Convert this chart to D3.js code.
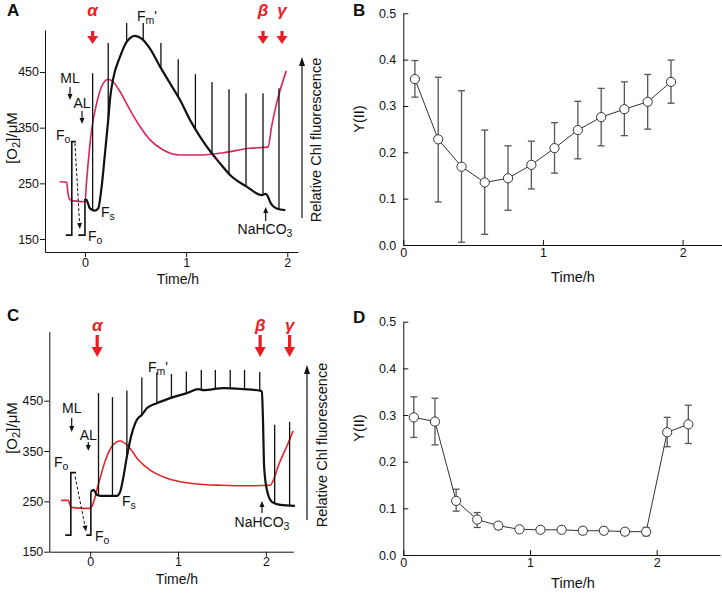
<!DOCTYPE html>
<html><head><meta charset="utf-8">
<script src="https://cdn.jsdelivr.net/npm/d3@7"></script>
<style>
body{margin:0;background:#fff;}
svg{display:block;}
</style></head><body>
<svg id="chart" width="722" height="593"></svg>
<script>
// ================= DATA =================
const timeTicks = [0, 1, 2];
const o2Ticks = [150, 250, 350, 450];
const yieldTicks = [0, 0.1, 0.2, 0.3, 0.4, 0.5];

// ---- Panel A: O2 concentration (red), µM vs time (h)
const o2A_t = [-0.25, -0.18, -0.17, -0.15, -0.13, 0, 0.017, 0.066, 0.116, 0.165, 0.23, 0.28, 0.346, 0.445, 0.544, 0.643, 0.774, 0.939, 1.137, 1.367, 1.631, 1.81, 1.845, 1.895, 1.99];
const o2A_v = [253, 252, 235, 221, 219, 217, 256, 346, 394, 424, 437, 432, 415, 382, 352, 328, 310, 301, 301, 305, 313, 315, 352, 394, 452];
// ---- Panel A: relative Chl fluorescence (black), plotted on the O2-equivalent scale
const flA_t = [0, 0.017, 0.049, 0.099, 0.131, 0.165, 0.198, 0.23, 0.25, 0.28, 0.346, 0.412, 0.494, 0.56, 0.643, 0.741, 0.84, 0.939, 1.038, 1.137, 1.253, 1.335, 1.434, 1.599, 1.747, 1.785, 1.81, 1.829, 1.895, 1.98];
const flA_v = [222, 220, 205, 201, 205, 244, 304, 364, 405, 439, 477, 504, 515, 510, 492, 460, 430, 400, 364, 334, 304, 286, 265, 244, 229, 231, 226, 217, 205, 202];
const foA1_t = [-0.19, -0.13, -0.13, -0.09];
const foA1_v = [157, 157, 325, 325];
const foA2_t = [-0.066, 0, 0];
const foA2_v = [157, 157, 222];
const pulseA_t = [0.076, 0.23, 0.412, 0.576, 0.751, 0.922, 1.092, 1.256, 1.424, 1.592, 1.76, 1.918];
const pulseA_top = [448, 502, 538, 538, 502, 473, 446, 432, 419, 412, 412, 421];
const markA_t = [0.076, 1.76, 1.948]; // alpha, beta, gamma

// ---- Panel C
const o2C_t = [-0.33, -0.25, -0.22, -0.16, 0, 0.02, 0.094, 0.171, 0.247, 0.341, 0.436, 0.55, 0.683, 0.873, 1.1, 1.25, 1.5, 1.8, 2.05, 2.08, 2.14, 2.24, 2.31];
const o2C_v = [252, 252, 239, 237, 236, 240, 284, 330, 359, 370, 359, 332, 312, 296, 287, 284, 282, 281, 282, 290, 320, 360, 390];
const flC_t = [0.008, 0.038, 0.076, 0.114, 0.19, 0.304, 0.341, 0.379, 0.418, 0.475, 0.532, 0.589, 0.645, 0.759, 0.911, 1.1, 1.233, 1.29, 1.517, 1.745, 1.935, 1.954, 1.966, 1.98, 2.011, 2.068, 2.163, 2.33];
const flC_v = [269, 273, 263, 261, 261, 261, 269, 299, 339, 385, 412, 422, 435, 445, 455, 465, 473, 471, 475, 473, 470, 468, 418, 319, 273, 249, 243, 241];
const foC1_t = [-0.284, -0.22, -0.22, -0.16];
const foC1_v = [183, 183, 307, 307];
const foC2_t = [-0.045, 0.008, 0.008];
const foC2_v = [183, 183, 269];
const pulseC_t = [0.095, 0.254, 0.418, 0.588, 0.759, 0.925, 1.095, 1.265, 1.425, 1.594, 1.757, 1.93, 2.1, 2.27];
const pulseC_top = [465, 457, 470, 496, 506, 503, 508, 511, 511, 511, 511, 507, 402, 408];
const markC_t = [0.08, 1.935, 2.27];

// ---- Panel B: Y(II)
const yB_t = [0.083, 0.25, 0.417, 0.583, 0.75, 0.917, 1.083, 1.25, 1.417, 1.583, 1.75, 1.917];
const yB_mean = [0.358, 0.228, 0.169, 0.135, 0.144, 0.173, 0.209, 0.248, 0.276, 0.293, 0.309, 0.352];
const yB_hi = [0.398, 0.362, 0.333, 0.248, 0.214, 0.224, 0.264, 0.310, 0.338, 0.352, 0.368, 0.399];
const yB_lo = [0.319, 0.093, 0.006, 0.023, 0.075, 0.121, 0.155, 0.186, 0.214, 0.236, 0.250, 0.306];

// ---- Panel D: Y(II)
const yD_t = [0.083, 0.25, 0.417, 0.583, 0.75, 0.917, 1.083, 1.25, 1.417, 1.583, 1.75, 1.917, 2.083, 2.25];
const yD_mean = [0.295, 0.286, 0.116, 0.076, 0.063, 0.055, 0.054, 0.054, 0.052, 0.052, 0.050, 0.050, 0.263, 0.280];
const yD_hi = [0.339, 0.336, 0.141, 0.091, 0.070, 0.061, 0.061, 0.061, 0.059, 0.059, 0.056, 0.059, 0.295, 0.321];
const yD_lo = [0.252, 0.236, 0.094, 0.059, 0.055, 0.050, 0.048, 0.048, 0.045, 0.045, 0.043, 0.041, 0.232, 0.239];

// ================= DRAWING =================
const FONT = "'Liberation Sans', Arial, Helvetica, sans-serif";
const RED = "#ec1c24";
const svg = d3.select("#chart").attr("font-family", FONT);

const zip = (a, b) => a.map((d, i) => [d, b[i]]);
function interp(ts, vs, t) {
  const i = Math.max(1, Math.min(ts.length - 1, d3.bisectLeft(ts, t)));
  const f = (t - ts[i - 1]) / (ts[i] - ts[i - 1]);
  return vs[i - 1] + f * (vs[i] - vs[i - 1]);
}
function arrow(g, x1, y1, x2, y2, o) {
  const dx = x2 - x1, dy = y2 - y1, L = Math.hypot(dx, dy), ux = dx / L, uy = dy / L;
  const bx = x2 - ux * o.hl, by = y2 - uy * o.hl;
  g.append("line").attr("x1", x1).attr("y1", y1).attr("x2", bx + ux).attr("y2", by + uy)
    .attr("stroke", o.color).attr("stroke-width", o.sw).attr("stroke-dasharray", o.dash || null);
  g.append("path").attr("d", `M${x2},${y2}L${bx - uy * o.hw / 2},${by + ux * o.hw / 2}L${bx + uy * o.hw / 2},${by - ux * o.hw / 2}Z`)
    .attr("fill", o.color);
}
// parts: [text, kind] kind: null | "sub"
function richText(g, x, y, parts, o) {
  const t = g.append("text").attr("x", x).attr("y", y).attr("font-size", o.size)
    .attr("text-anchor", o.anchor || "start").attr("fill", o.color || "#111");
  if (o.transform) t.attr("transform", o.transform).attr("x", 0).attr("y", 0);
  let shift = 0;
  parts.forEach(([s, k]) => {
    const ts = t.append("tspan").text(s);
    if (k === "sub") { ts.attr("dy", 3 - shift).attr("font-size", o.size * 0.75); shift = 3; }
    else { if (shift) ts.attr("dy", -shift); shift = 0; }
  });
  return t;
}
function styleAxis(g) {
  g.attr("font-family", FONT).attr("font-size", 12.5);
  g.selectAll("path,line").attr("stroke", "#111").attr("stroke-width", 1);
  g.selectAll("text").attr("fill", "#111");
}

function tracePanel(c) {
  const g = svg.append("g");
  const x = c.x, y = c.y;
  const ax = g.append("g").attr("transform", `translate(0,${y.range()[0]})`)
    .call(d3.axisBottom(x).tickValues(timeTicks).tickSize(5).tickSizeOuter(0).tickPadding(c.xPad).tickFormat(d3.format("d")));
  const ay = g.append("g").attr("transform", `translate(${x.range()[0]},0)`)
    .call(d3.axisLeft(y).tickValues(o2Ticks).tickSize(5).tickSizeOuter(0).tickPadding(1));
  styleAxis(ax); styleAxis(ay);

  const lin = d3.line().x(d => x(d[0])).y(d => y(d[1]));
  const smooth = d3.line().x(d => x(d[0])).y(d => y(d[1])).curve(d3.curveMonotoneX);

  // O2 trace
  g.append("path").attr("d", smooth(zip(c.o2t, c.o2v))).attr("fill", "none")
    .attr("stroke", c.redLine).attr("stroke-width", 1.6);
  // Fo brackets
  [[c.fo1t, c.fo1v], [c.fo2t, c.fo2v]].forEach(([t, v]) =>
    g.append("path").attr("d", lin(zip(t, v))).attr("fill", "none").attr("stroke", "#111").attr("stroke-width", 1.6));
  // saturating pulses
  c.pt.forEach((t, i) => {
    g.append("line").attr("x1", x(t)).attr("x2", x(t))
      .attr("y1", y(interp(c.flt, c.flv, t))).attr("y2", y(c.ptop[i]))
      .attr("stroke", "#111").attr("stroke-width", 1.3);
  });
  // fluorescence trace
  g.append("path").attr("d", smooth(zip(c.flt, c.flv))).attr("fill", "none")
    .attr("stroke", "#111").attr("stroke-width", 2.2).attr("stroke-linejoin", "round");
  // dashed Fo arrow
  arrow(g, x(c.dash[0]), y(c.dash[1]), x(c.dash[2]), y(c.dash[3]), { color: "#111", sw: 1, hl: 6, hw: 5, dash: "3,2" });

  // red marker arrows
  const names = ["α", "β", "γ"];
  c.marks.forEach((t, i) => {
    arrow(g, x(t), c.arrowY[0], x(t), c.arrowY[1], { color: RED, sw: 3.2, hl: c.arrowY[2], hw: 11 });
    g.append("text").attr("x", x(t)).attr("y", c.greekY).attr("text-anchor", "middle")
      .attr("font-size", 17).attr("font-weight", "bold").attr("font-style", "italic")
      .attr("fill", RED).text(names[i]);
  });

  // labels
  const L = c.lab, fs = 14;
  g.append("text").attr("x", L.ml[0]).attr("y", L.ml[1]).attr("text-anchor", "middle").attr("font-size", fs).attr("fill", "#111").text("ML");
  arrow(g, L.ml[0], L.mlA[0], L.ml[0], L.mlA[1], { color: "#111", sw: 1.2, hl: 6, hw: 5 });
  g.append("text").attr("x", L.al[0]).attr("y", L.al[1]).attr("text-anchor", "middle").attr("font-size", fs).attr("fill", "#111").text("AL");
  arrow(g, L.al[0], L.alA[0], L.al[0], L.alA[1], { color: "#111", sw: 1.2, hl: 6, hw: 5 });
  richText(g, L.fo1[0], L.fo1[1], [["F"], ["o", "sub"]], { size: fs });
  richText(g, L.fo2[0], L.fo2[1], [["F"], ["o", "sub"]], { size: fs });
  richText(g, L.fs[0], L.fs[1], [["F"], ["s", "sub"]], { size: fs });
  richText(g, L.fm[0], L.fm[1], [["F"], ["m", "sub"], ["'"]], { size: fs });
  richText(g, L.na[0], L.na[1], [["NaHCO"], ["3", "sub"]], { size: fs, anchor: "middle" });
  arrow(g, L.naA[0], L.naA[1], L.naA[0], L.naA[2], { color: "#111", sw: 1.2, hl: 6, hw: 5 });

  // Relative Chl fluorescence arrow + text
  arrow(g, L.rel[0], L.rel[1], L.rel[0], L.rel[2], { color: "#111", sw: 1.2, hl: 9, hw: 6 });
  g.append("text").attr("transform", `translate(${L.relT[0]},${L.relT[1]}) rotate(-90)`)
    .attr("text-anchor", "middle").attr("font-size", 14.5).attr("fill", "#111").text("Relative Chl fluorescence");
  // y label
  richText(g, 0, 0, [["[O"], ["2", "sub"], ["]/μM"]], { size: 15, anchor: "middle", transform: `translate(${L.ylab[0]},${L.ylab[1]}) rotate(-90)` });
  // x label
  g.append("text").attr("x", L.xlab[0]).attr("y", L.xlab[1]).attr("text-anchor", "middle").attr("font-size", 14).attr("fill", "#111").text("Time/h");
  // panel letter
  g.append("text").attr("x", L.letter[0]).attr("y", L.letter[1]).attr("font-size", 17).attr("font-weight", "bold").attr("fill", "#111").text(c.letter);
}

function yieldPanel(c) {
  const g = svg.append("g");
  const x = c.x, y = c.y;
  const ax = g.append("g").attr("transform", `translate(0,${y.range()[0]})`)
    .call(d3.axisBottom(x).tickValues(timeTicks).tickSize(-5).tickSizeOuter(0).tickPadding(3).tickFormat(d3.format("d")));
  const ay = g.append("g").attr("transform", `translate(${x.range()[0]},0)`)
    .call(d3.axisLeft(y).tickValues(yieldTicks).tickSize(-5).tickSizeOuter(0).tickPadding(7).tickFormat(d3.format(".1f")));
  styleAxis(ax); styleAxis(ay);

  const line = d3.line().x(d => x(d[0])).y(d => y(d[1]));
  g.append("path").attr("d", line(zip(c.t, c.m))).attr("fill", "none").attr("stroke", "#333").attr("stroke-width", 1);
  const eb = g.append("g").attr("stroke", "#555").attr("stroke-width", 1.3);
  c.t.forEach((t, i) => {
    eb.append("line").attr("x1", x(t)).attr("x2", x(t)).attr("y1", y(c.lo[i])).attr("y2", y(c.hi[i]));
    [c.lo[i], c.hi[i]].forEach(v => eb.append("line").attr("x1", x(t) - 3.5).attr("x2", x(t) + 3.5).attr("y1", y(v)).attr("y2", y(v)));
  });
  g.selectAll("circle.pt").data(zip(c.t, c.m)).join("circle").attr("class", "pt")
    .attr("cx", d => x(d[0])).attr("cy", d => y(d[1])).attr("r", 4.6)
    .attr("fill", "#fff").attr("stroke", "#333").attr("stroke-width", 1);

  const L = c.lab;
  g.append("text").attr("transform", `translate(${L.ylab[0]},${L.ylab[1]}) rotate(-90)`)
    .attr("text-anchor", "middle").attr("font-size", 14.5).attr("fill", "#111").text("Y(II)");
  g.append("text").attr("x", L.xlab[0]).attr("y", L.xlab[1]).attr("text-anchor", "middle").attr("font-size", 14.5).attr("fill", "#111").text("Time/h");
  g.append("text").attr("x", L.letter[0]).attr("y", L.letter[1]).attr("font-size", 17).attr("font-weight", "bold").attr("fill", "#111").text(c.letter);
}

// ---- Panel A
tracePanel({
  letter: "A",
  x: d3.scaleLinear().domain([-0.395, 2.106]).range([45, 298]),
  y: d3.scaleLinear().domain([126.7, 525.4]).range([252, 30]),
  xPad: 1,
  o2t: o2A_t, o2v: o2A_v, redLine: "#dc2458",
  flt: flA_t, flv: flA_v,
  fo1t: foA1_t, fo1v: foA1_v, fo2t: foA2_t, fo2v: foA2_v,
  pt: pulseA_t, ptop: pulseA_top,
  dash: [-0.099, 322, -0.05, 168],
  marks: markA_t, arrowY: [31, 44, 8], greekY: 16,
  lab: {
    ml: [70, 83], mlA: [87, 100], al: [82, 108], alA: [111, 124],
    fo1: [56, 140], fo2: [88, 241], fs: [101, 217], fm: [137, 21],
    na: [265, 234], naA: [265.7, 221, 207],
    rel: [302, 218, 57], relT: [321, 140],
    ylab: [17, 138], xlab: [178, 284], letter: [7, 16]
  }
});

// ---- Panel C
tracePanel({
  letter: "C",
  x: d3.scaleLinear().domain([-0.465, 2.312]).range([49.3, 293.3]),
  y: d3.scaleLinear().domain([150, 587]).range([551.7, 331.7]),
  xPad: 0,
  o2t: o2C_t, o2v: o2C_v, redLine: "#e3262b",
  flt: flC_t, flv: flC_v,
  fo1t: foC1_t, fo1v: foC1_v, fo2t: foC2_t, fo2v: foC2_v,
  pt: pulseC_t, ptop: pulseC_top,
  dash: [-0.171, 299, -0.046, 190],
  marks: markC_t, arrowY: [335, 357, 10], greekY: 331,
  lab: {
    ml: [71.7, 413], mlA: [418, 432], al: [88.3, 440], alA: [442, 451],
    fo1: [54, 467], fo2: [95, 541], fs: [122, 506], fm: [148, 372],
    na: [262, 527], naA: [262, 513, 501],
    rel: [307, 520, 365], relT: [327, 445],
    ylab: [17, 428], xlab: [177, 584], letter: [7, 321]
  }
});

// ---- Panel B
yieldPanel({
  letter: "B",
  x: d3.scaleLinear().domain([0, 2.28]).range([403.3, 721.7]),
  y: d3.scaleLinear().domain([0, 0.5]).range([245, 13.3]),
  t: yB_t, m: yB_mean, hi: yB_hi, lo: yB_lo,
  lab: { ylab: [364, 119], xlab: [573, 282], letter: [353, 16] }
});

// ---- Panel D
yieldPanel({
  letter: "D",
  x: d3.scaleLinear().domain([0, 2.5]).range([403.3, 720]),
  y: d3.scaleLinear().domain([0, 0.5]).range([555, 321.7]),
  t: yD_t, m: yD_mean, hi: yD_hi, lo: yD_lo,
  lab: { ylab: [364, 428], xlab: [573, 588], letter: [353, 323] }
});
</script>
</body></html>
